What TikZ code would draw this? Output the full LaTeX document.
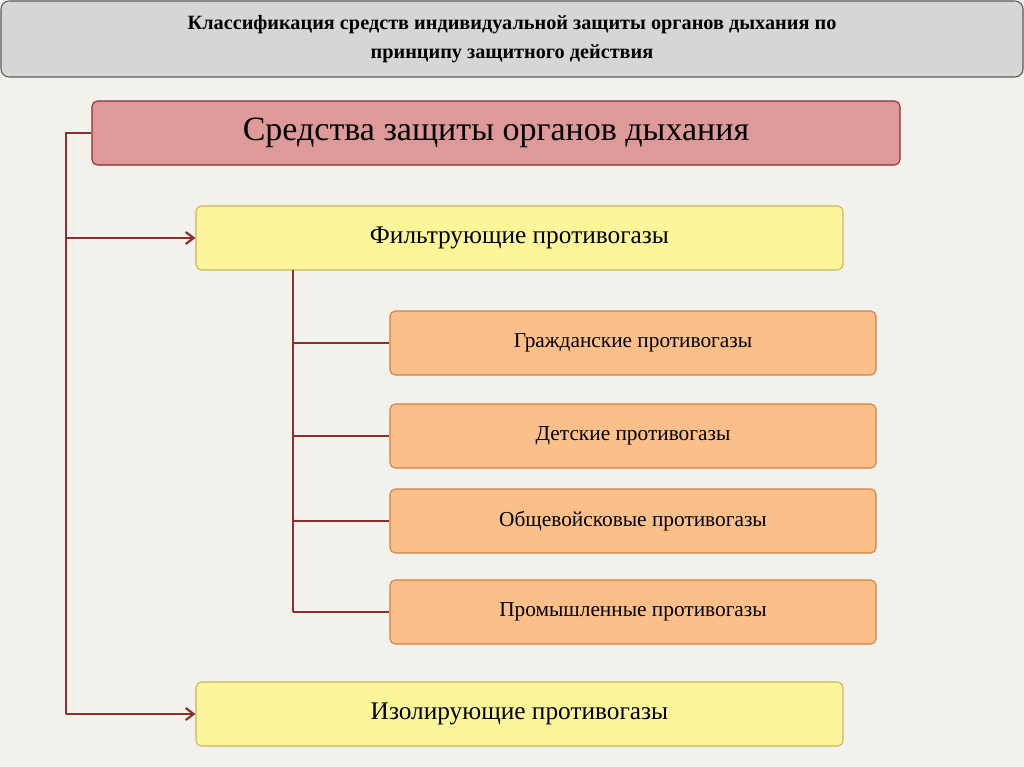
\documentclass[tikz,border=0pt]{standalone}
\usepackage{fontspec}
\setmainfont{Liberation Serif}
\usetikzlibrary{arrows.meta}
\begin{document}
\begin{tikzpicture}[x=0.75pt,y=-0.75pt,
  box/.style={draw,rounded corners=4pt,line width=0.8pt,inner sep=0pt},
  conn/.style={draw=linec,line width=1.6pt},
  arr/.style={conn,-{Straight Barb[length=6pt,width=9pt]}}]
\definecolor{bg}{HTML}{F3F1EC}
\definecolor{linec}{HTML}{8B2E2E}
\fill[bg] (0,0) rectangle (1024,767);
\useasboundingbox (0,0) rectangle (1024,767);
\node[box,draw=gray!70!black,fill=black!16,minimum width=1022*0.75pt,minimum height=76*0.75pt,rounded corners=6pt,align=center,font=\bfseries\fontsize{15.2}{22}\selectfont] (title) at (512,39)
 {\fontsize{15.2}{22}\selectfont Классификация средств индивидуальной защиты органов дыхания по\\принципу защитного действия};
\node[box,draw=linec,fill={rgb,255:red,221;green,154;blue,152},minimum width=808*0.75pt,minimum height=64*0.75pt,font=\fontsize{25.5}{30}\selectfont] (main) at (496,133) {Средства защиты органов дыхания};
\tikzset{yb/.style={box,draw={rgb,255:red,200;green,180;blue,100},fill={rgb,255:red,253;green,245;blue,154},minimum width=647*0.75pt,minimum height=64*0.75pt,font=\fontsize{19}{22}\selectfont},
 ob/.style={box,draw={rgb,255:red,208;green,128;blue,64},fill={rgb,255:red,251;green,191;blue,138},minimum width=486*0.75pt,minimum height=64*0.75pt,font=\fontsize{16}{20}\selectfont}}
\node[yb] (filt) at (519.5,238) {Фильтрующие противогазы};
\node[yb] (iso) at (519.5,714) {Изолирующие противогазы};
\node[ob] (o1) at (633,343) {Гражданские противогазы};
\node[ob] (o2) at (633,436) {Детские противогазы};
\node[ob] (o3) at (633,521) {Общевойсковые противогазы};
\node[ob] (o4) at (633,612) {Промышленные противогазы};
\coordinate (L1) at (66,133);
\coordinate (L2) at (66,714);
\draw[conn] (main.west) -- (L1) -- (L2);
\draw[arr] (66,238) -- (filt.west);
\draw[arr] (L2) -- (iso.west);
\coordinate (T1) at (293,270);
\coordinate (T2) at (293,612);
\draw[conn] (T1) -- (T2);
\foreach \n in {o1,o2,o3,o4} \draw[conn] (T1 |- \n.west) -- (\n.west);
\end{tikzpicture}
\end{document}
